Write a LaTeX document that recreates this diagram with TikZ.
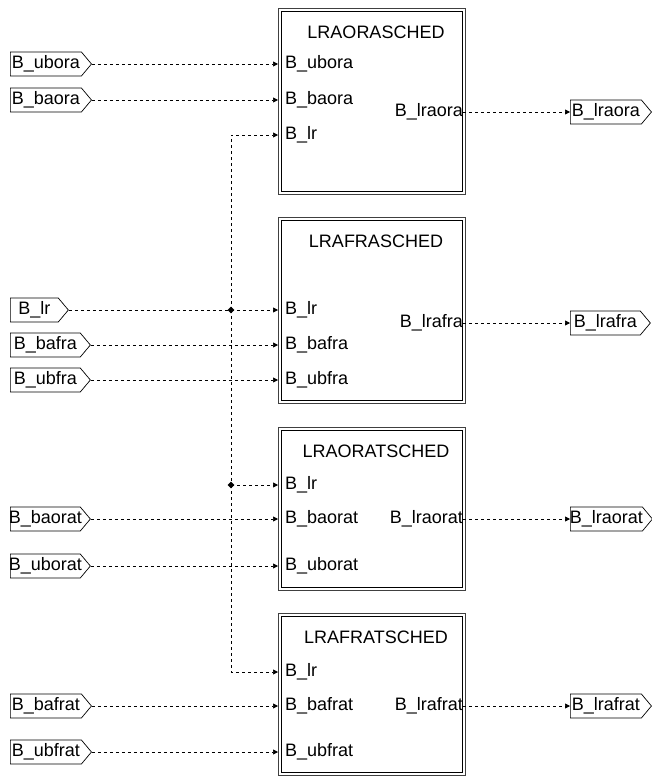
\documentclass[tikz,border=0pt]{standalone}
\usepackage{fontspec}
\setmainfont{Liberation Sans}
\usepackage{tikz}
\usetikzlibrary{shapes.symbols,shapes.geometric,arrows.meta}
\newcommand{\schedblock}[4]% name, top, height, title
{\node[blk, minimum height=#3] (#1) at (278,#2) {};
\draw[blkinner] ([shift={(3pt,-3pt)}]#1.north west) rectangle ([shift={(-3pt,3pt)}]#1.south east);
\node[blktitle] (#1-title) at (376,#2+24) {#4};
}

\begin{document}
\begin{tikzpicture}[x=1pt,y=-1pt,
  lbl/.style={font=\fontsize{18}{20}\selectfont, inner sep=0pt},
  blk/.style={draw=black!75, line width=0.9pt, anchor=north west, minimum width=187pt, inner sep=0pt},
  blkinner/.style={draw, line width=0.9pt},
  blktitle/.style={lbl},
  flag/.style={lbl, draw, line width=0.7pt, signal, signal to=east, signal pointer angle=100, minimum width=80pt, minimum height=24pt, inner xsep=1.5pt, anchor=west},
  wire/.style={line width=0.7pt, dash pattern=on 3pt off 3pt},
  sig/.style={wire, -{Triangle[length=5pt,width=5pt]}},
  junc/.style={diamond, fill, inner sep=0pt, minimum size=7pt}]

\useasboundingbox (0,0) rectangle (652,776);

\schedblock{ora}{8}{186pt}{LRAORASCHED}
\schedblock{fra}{217}{186pt}{LRAFRASCHED}
\schedblock{orat}{427}{163pt}{LRAORATSCHED}
\schedblock{frat}{613}{162pt}{LRAFRATSCHED}

\node[lbl, anchor=west] (ora-ubora) at (285,64) {B\_ubora};
\node[lbl, anchor=west] (ora-baora) at (285,100) {B\_baora};
\node[lbl, anchor=west] (ora-lr) at (285,135) {B\_lr};
\node[lbl, anchor=east] (ora-lraora) at (463,112) {B\_lraora};

\node[lbl, anchor=west] (fra-lr) at (285,310) {B\_lr};
\node[lbl, anchor=west] (fra-bafra) at (285,345) {B\_bafra};
\node[lbl, anchor=west] (fra-ubfra) at (285,380) {B\_ubfra};
\node[lbl, anchor=east] (fra-lrafra) at (463,323) {B\_lrafra};

\node[lbl, anchor=west] (orat-lr) at (285,485) {B\_lr};
\node[lbl, anchor=west] (orat-baorat) at (285,519) {B\_baorat};
\node[lbl, anchor=west] (orat-uborat) at (285,566) {B\_uborat};
\node[lbl, anchor=east] (orat-lraorat) at (463,519) {B\_lraorat};

\node[lbl, anchor=west] (frat-lr) at (285,672) {B\_lr};
\node[lbl, anchor=west] (frat-bafrat) at (285,706) {B\_bafrat};
\node[lbl, anchor=west] (frat-ubfrat) at (285,752) {B\_ubfrat};
\node[lbl, anchor=east] (frat-lrafrat) at (463,706) {B\_lrafrat};

\node[flag] (ubora) at (10,64) {B\_ubora};
\node[flag] (baora) at (10,100) {B\_baora};
\node[flag, minimum width=58pt] (lr) at (10,310) {B\_lr};
\node[flag] (bafra) at (10,345) {B\_bafra};
\node[flag] (ubfra) at (10,380) {B\_ubfra};
\node[flag, inner xsep=-4pt] (baorat) at (10,519) {B\_baorat};
\node[flag, inner xsep=-4pt] (uborat) at (10,566) {B\_uborat};
\node[flag] (bafrat) at (10,706) {B\_bafrat};
\node[flag] (ubfrat) at (10,752) {B\_ubfrat};

\node[flag] (lraora) at (570,112) {B\_lraora};
\node[flag] (lrafra) at (570,323) {B\_lrafra};
\node[flag, inner xsep=-0.5pt] (lraorat) at (570,519) {B\_lraorat};
\node[flag] (lrafrat) at (570,706) {B\_lrafrat};

\node[junc] (jfra) at (231,310) {};
\node[junc] (jorat) at (231,485) {};

\draw[sig] (ubora.east) -- (ora.west |- ora-ubora);
\draw[sig] (baora.east) -- (ora.west |- ora-baora);
\draw[sig] (jfra.center) |- (ora.west |- ora-lr);
\draw[sig] (ora-lraora.east) -- (lraora.west);

\draw[sig] (lr.east) -- (fra.west |- fra-lr);
\draw[sig] (bafra.east) -- (fra.west |- fra-bafra);
\draw[sig] (ubfra.east) -- (fra.west |- fra-ubfra);
\draw[sig] (fra-lrafra.east) -- (lrafra.west);

\draw[wire] (jfra.center) -- (jorat.center);
\draw[sig] (jorat.center) -- (orat.west |- orat-lr);
\draw[sig] (baorat.east) -- (orat.west |- orat-baorat);
\draw[sig] (uborat.east) -- (orat.west |- orat-uborat);
\draw[sig] (orat-lraorat.east) -- (lraorat.west);

\draw[sig] (jorat.center) |- (frat.west |- frat-lr);
\draw[sig] (bafrat.east) -- (frat.west |- frat-bafrat);
\draw[sig] (ubfrat.east) -- (frat.west |- frat-ubfrat);
\draw[sig] (frat-lrafrat.east) -- (lrafrat.west);
\end{tikzpicture}
\end{document}
